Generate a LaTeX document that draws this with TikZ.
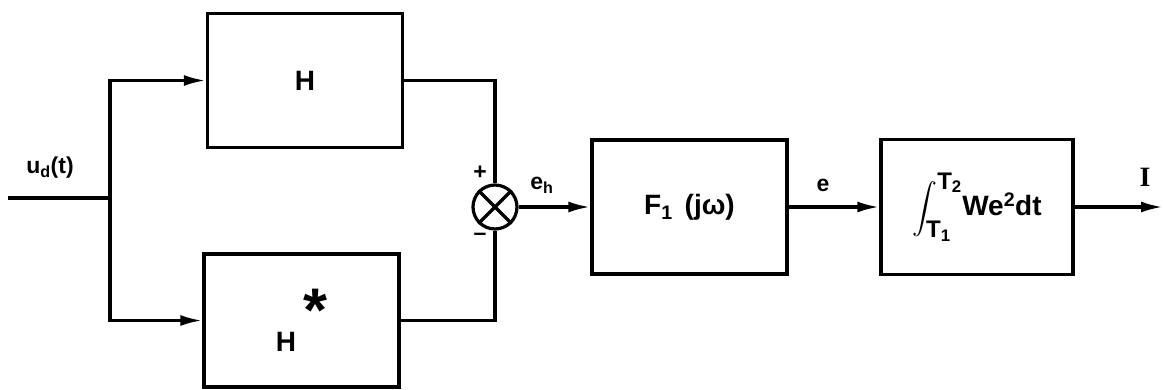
\documentclass[tikz,border=0pt]{standalone}
\usepackage{amsmath}
\usepackage{fontspec}
\setmainfont{Liberation Sans}
\newfontfamily\serifI{Liberation Serif}
\usepackage{tikz}
\usetikzlibrary{positioning, arrows.meta, calc}

\begin{document}
\begin{tikzpicture}[
  x=1pt, y=-1pt,
  every node/.style={font=\bfseries\fontsize{28}{32}\selectfont},
  block/.style={draw, line width=3.2pt, minimum width=195pt,
                minimum height=134pt, inner sep=0pt},
  sum/.style={circle, draw, line width=3.2pt, minimum size=44pt, inner sep=0pt},
  wire/.style={line width=3.2pt},
  sig/.style={wire, -{Latex[length=22pt,width=11pt]}},
  lbl/.style={font=\bfseries\fontsize{23}{26}\selectfont},
]
  \useasboundingbox (0,0) rectangle (1163,389);

  % the two parallel branches
  \node[block] (H) at (305,80.5) {H\hspace{40pt}};
  \node[block, minimum height=133pt] (Hs) at (301.5,320.5)
    {H\hspace{7pt}\raisebox{20pt}{\scalebox{2.2}{*}}\hspace{24pt}};
  \node[sum] (sum) at (495,207) {};
  \draw[wire] (sum.45) -- (sum.225) (sum.135) -- (sum.315);

  % filter and cost
  \node[block] (F) at (689.5,207) {F\textsubscript{1}\hspace{12pt}(jω)};
  \node[block, minimum width=192pt, minimum height=135pt] (J) at (977,207)
    {$\displaystyle\int_{\text{\bfseries\fontsize{24}{26}\selectfont T\textsubscript{1}}}^{\text{\bfseries\fontsize{24}{26}\selectfont T\textsubscript{2}}}$We\textsuperscript{2}dt};

  \coordinate (in) at (8,198);
  \coordinate (split) at (110,198);
  \coordinate (out) at (1163,207);

  \draw[wire] (in) -- (split);
  \draw[sig] (split) |- (H.west);
  \draw[sig] (split) |- (Hs.west);
  \draw[wire] (H.east) -| (sum.north);
  \draw[wire] (Hs.east) -| (sum.south);
  \draw[sig] (sum.east) -- (F.west);
  \draw[sig] (F.east) -- (J.west);
  \draw[sig] (J.east) -- (out);

  \node[lbl] (ud) at (50,168) {u\textsubscript{d}(t)};
  \node[lbl] (plus) at (480,173) {+};
  \node[lbl] (minus) at (480,237) {–};
  \node[lbl] (eh) at (542,185) {e\textsubscript{h}};
  \node[lbl] (e) at (823,185) {e};
  \node[font=\serifI\bfseries\fontsize{28}{32}\selectfont] (I) at (1145,177) {I};
\end{tikzpicture}
\end{document}
